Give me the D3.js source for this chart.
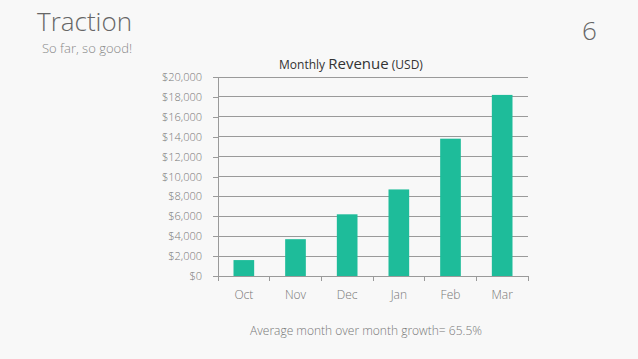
<!DOCTYPE html>
<html><head><meta charset="utf-8">
<script src="https://cdn.jsdelivr.net/npm/d3@7"></script>
<style>body{margin:0;background:#f8f8f8;}svg{display:block;}</style>
</head><body>
<svg id="c" width="638" height="359"></svg>
<script>
const categories = ["Oct","Nov","Dec","Jan","Feb","Mar"];
const revenue = [1600, 3700, 6200, 8700, 13800, 18200];
const yTicks = [0,2000,4000,6000,8000,10000,12000,14000,16000,18000,20000];

const svg = d3.select("#c");
const font = "'Open Sans', sans-serif";
svg.append("rect").attr("width",638).attr("height",359).attr("fill","#f8f8f8");

const m = {l:218, r:528, t:77, b:276};
const x = d3.scaleBand().domain(categories).range([m.l,m.r]).paddingInner(0.6).paddingOuter(0.3);
const y = d3.scaleLinear().domain([0,20000]).range([m.b,m.t]);

// grid
svg.append("g").selectAll("line").data(yTicks).join("line")
  .attr("x1",m.l).attr("x2",m.r).attr("y1",d=>y(d)).attr("y2",d=>y(d))
  .attr("stroke","#9a9a9a").attr("stroke-width",1).attr("shape-rendering","crispEdges");

const fmt = d => "$" + d3.format(",")(d);
const yAxis = svg.append("g").attr("transform",`translate(${m.l},0)`)
  .call(d3.axisLeft(y).tickValues(yTicks).tickFormat(fmt).tickSize(5).tickPadding(11));
yAxis.select(".domain").attr("stroke","#9a9a9a").attr("shape-rendering","crispEdges");
yAxis.selectAll(".tick line").attr("stroke","#9a9a9a").attr("shape-rendering","crispEdges");
yAxis.selectAll("text").attr("fill","#777").attr("font-family",font).attr("font-size",11).attr("font-weight",300);

// bars
svg.append("g").selectAll("rect").data(revenue).join("rect")
  .attr("x",(d,i)=>x(categories[i])).attr("width",x.bandwidth())
  .attr("y",d=>y(d)).attr("height",d=>y(0)-y(d)).attr("fill","#1ebc9a");

// x axis
const bounds = d3.range(categories.length+1).map(i=>m.l + i*(m.r-m.l)/categories.length);
svg.append("line").attr("x1",m.l).attr("x2",m.r).attr("y1",y(0)).attr("y2",y(0))
  .attr("stroke","#9a9a9a").attr("shape-rendering","crispEdges");
svg.append("g").selectAll("line").data(bounds).join("line")
  .attr("x1",d=>d).attr("x2",d=>d).attr("y1",y(0)).attr("y2",y(0)+5)
  .attr("stroke","#9a9a9a").attr("shape-rendering","crispEdges");
svg.append("g").selectAll("text").data(categories).join("text")
  .attr("x",d=>x(d)+x.bandwidth()/2).attr("y",299).attr("text-anchor","middle")
  .attr("fill","#777").attr("font-family",font).attr("font-size",12).attr("font-weight",300).text(d=>d);

// chart title
const t = svg.append("text").attr("x",351).attr("y",69).attr("text-anchor","middle")
  .attr("fill","#333").attr("font-family",font);
t.append("tspan").attr("font-size",12).text("Monthly ");
t.append("tspan").attr("font-size",15).text("Revenue");
t.append("tspan").attr("font-size",12).text(" (USD)");

// slide text
svg.append("text").attr("x",37).attr("y",31).attr("fill","#666").attr("font-family",font)
  .attr("font-size",26).attr("font-weight",300).text("Traction");
svg.append("text").attr("x",42).attr("y",53).attr("fill","#888").attr("font-family",font)
  .attr("font-size",13).attr("font-weight",300).text("So far, so good!");
svg.append("text").attr("x",582).attr("y",40).attr("fill","#666").attr("font-family",font)
  .attr("font-size",26).attr("font-weight",300).text("6");
svg.append("text").attr("x",366).attr("y",335).attr("text-anchor","middle").attr("fill","#777")
  .attr("font-family",font).attr("font-size",12).attr("font-weight",300)
  .text("Average month over month growth= 65.5%");
</script>
</body></html>
